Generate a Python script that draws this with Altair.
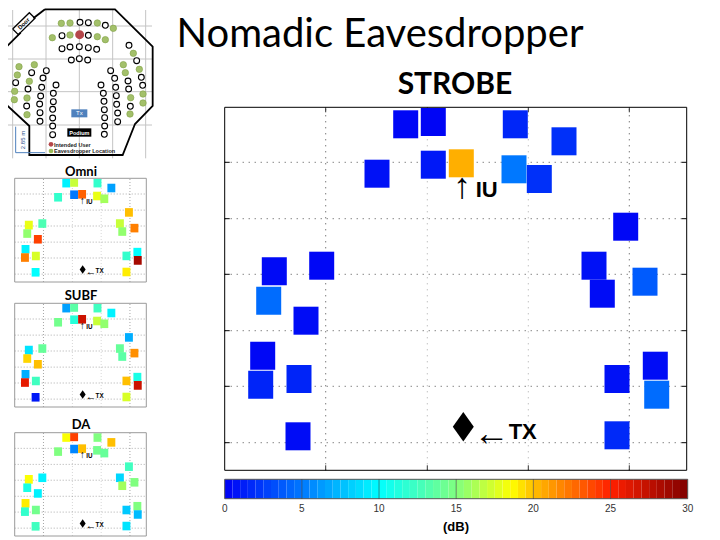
import altair as alt
import pandas as pd

# Shared eavesdropper positions (panel data units)
pos_x = [181,208.6,290.6,339.3,152.3,208.6,236.6,289.3,314.6,401,49.6,97,369.3,420.3,44,377.6,81.3,38,36,74.3,392.3,430.6,432,73.3,392.3]
pos_y = [346,348.3,346,329,296.6,305.6,307,301,291.3,243.6,199,204.6,204.6,188.6,169.6,176.6,149.6,114.6,85.6,91.3,91.3,104.6,75.6,34,35]

# dB per location
strobe = [0.3,0.2,1.6,2,0.7,1,20.5,5,2,0.3,0.4,0.3,0.7,3.8,4.5,0.5,0.5,0.3,1.5,1.5,0.7,0.5,4.5,0.5,1.7]
omni = [9.5,17,12,6.5,12,5,23,18,16,20,18,13,17,22,15.5,15.5,24,9.5,22,17.5,12,10,28.5,10,19]
subf = [6.5,13.5,12.5,9.5,14.5,11.5,27,17,15.5,7,9,14,14,21.5,19.5,13.5,20,7,26,12.5,20,11,27,1,17.5]
da = [18.5,24,15,20,15,5.5,20,14.5,14,12.5,18.5,9.5,8.5,15,11,16,9.5,19,12,14.5,8,15,7.5,12.5,9]

grid_x = [101,202.6,303.6,404.6]
grid_y = [27.6,84,139.6,196,251.6,308]
dark_x = [101,404.6]

jet_stops = [0,5,10,15,18.6,20,25,30]
jet_cols = ["#0000f5","#0078ff","#00ffff","#80ff80","#ffff00","#ffbf00","#ff2000","#800000"]
color = alt.Color("v:Q", scale=alt.Scale(domain=jet_stops, range=jet_cols, interpolate="rgb"), legend=None)

# floor plan (plan units)
outline_x = [135,345,458,458,405,368,88,88,20,20,62]
outline_y = [28,28,140,318,372,465,465,378,315,140,98]
outline2_x = [135,100]
outline2_y = [28,55]
door_x = [38,88,105,55,38]
door_y = [87,38,55,104,87]
chair_x = [240,265,316,186,265,186,210,238,265,290,214,238,263,387,410,95,139,129,47,84,125,168,122,80,119,160,160,120,158,120,158,158,158,332,344,303,424,384,428,347,310,386,349,312,350,391,313,353,314,353,314,313]
chair_y = [67,68,76,107,106,146,141,140,143,148,180,176,180,136,182,218,212,234,248,267,262,255,288,318,312,280,305,338,328,364,354,378,404,212,235,255,232,243,256,262,280,267,287,304,313,319,329,339,353,365,378,403]
eaves_x = [184,210,292,340,157,210,292,316,400,103,57,52,370,376,418,88,44,43,81,392,429,429,81,390]
eaves_y = [70,69,69,85,113,105,110,119,160,194,200,225,194,218,208,244,274,299,294,293,282,309,344,342]
plan_grid_x = [38,138,238,338,437]
plan_grid_y = [78,177,275,375]


def text_at(txt, x, y, size, font="Liberation Sans", bold=False, col="#000000", align="center", angle=0):
    kw = dict(text=txt, fontSize=size, font=font, color=col, align=align, baseline="middle")
    if bold:
        kw["fontWeight"] = "bold"
    if angle:
        kw["angle"] = angle
    return alt.Chart(pd.DataFrame({"a": [0]})).mark_text(**kw).encode(x=alt.value(x - 8), y=alt.value(y - 8))


def panel(vals, x0, x1, y0, y1, k, frame_col, grid_op):
    sx = alt.Scale(domain=[0, 462], range=[x0 - 8, x1 - 8], nice=False, zero=False)
    sy = alt.Scale(domain=[0, 363], range=[y1 - 8, y0 - 8], nice=False, zero=False)
    X = lambda f: alt.X(f, scale=sx, axis=None)
    Y = lambda f: alt.Y(f, scale=sy, axis=None)
    out = []
    vg = pd.DataFrame({"x": grid_x, "y0": [0] * 4, "y1": [363] * 4, "dark": [g in dark_x for g in grid_x]})
    hg = pd.DataFrame({"y": grid_y, "x0": [0] * 6, "x1": [462] * 6})
    dash = [1, 5] if k == 1 else [1, 2]
    for d, c in ((vg[vg.dark], "#222222"), (vg[~vg.dark], "#999999")):
        out.append(alt.Chart(d).mark_rule(color=c, strokeDash=dash, strokeWidth=1, opacity=grid_op).encode(x=X("x:Q"), y=Y("y0:Q"), y2="y1:Q"))
    out.append(alt.Chart(hg).mark_rule(color="#333333", strokeDash=dash, strokeWidth=1, opacity=grid_op).encode(y=Y("y:Q"), x=X("x0:Q"), x2="x1:Q"))
    if k == 1:
        for a, b in ((0, 5), (457, 462)):
            d = pd.DataFrame({"y": grid_y, "x0": [a] * 6, "x1": [b] * 6})
            out.append(alt.Chart(d).mark_rule(color="#000000", strokeWidth=1).encode(y=Y("y:Q"), x=X("x0:Q"), x2="x1:Q"))
        for a, b in ((0, 5), (358, 363)):
            d = pd.DataFrame({"x": grid_x, "y0": [a] * 4, "y1": [b] * 4})
            out.append(alt.Chart(d).mark_rule(color="#333333", strokeWidth=1).encode(x=X("x:Q"), y=Y("y0:Q"), y2="y1:Q"))
    df = pd.DataFrame({"x": pos_x, "y": pos_y, "v": vals})
    out.append(alt.Chart(df).mark_rect(opacity=1, width=25 * k + (0.8 if k < 1 else 0), height=28 * k + (0.6 if k < 1 else 0)).encode(x=X("x:Q"), y=Y("y:Q"), color=color))
    fr = pd.DataFrame({"x0": [0], "x1": [462], "y0": [0], "y1": [363]})
    out.append(alt.Chart(fr).mark_rect(fillOpacity=0, stroke=frame_col, strokeWidth=1).encode(x=X("x0:Q"), x2="x1:Q", y=Y("y0:Q"), y2="y1:Q"))
    ann = [("\u2191", 237.6, 283, 36, "Liberation Sans", False), ("IU", 262, 280, 22, "Liberation Sans", True),
           ("\u2190", 267, 36, 36, "Liberation Sans", False), ("TX", 298, 38, 22, "Liberation Sans", True)]
    for t, ax, ay, s, f, b in ann:
        d = pd.DataFrame({"x": [ax], "y": [ay]})
        kw = dict(text=t, fontSize=max(s * k, 6), font=f, baseline="middle", align="center", color="#000000")
        if b:
            kw["fontWeight"] = "bold"
        out.append(alt.Chart(d).mark_text(**kw).encode(x=X("x:Q"), y=Y("y:Q")))
    d = pd.DataFrame({"x": [238.6], "y": [43.6]})
    out.append(alt.Chart(d).mark_point(shape="M0,-1.2L0.85,0L0,1.2L-0.85,0Z", filled=True, color="#000000", opacity=1,
                                       size=(21 * k / 1.7) ** 2 * 4).encode(x=X("x:Q"), y=Y("y:Q")))
    return out


def plan():
    sx = alt.Scale(domain=[0, 510], range=[-8, 162], nice=False, zero=False)
    sy = alt.Scale(domain=[0, 510], range=[-8, 162], nice=False, zero=False)
    X = lambda f: alt.X(f, scale=sx, axis=None)
    Y = lambda f: alt.Y(f, scale=sy, axis=None)
    out = []
    vg = pd.DataFrame({"x": plan_grid_x, "y0": [30] * 5, "y1": [475] * 5})
    hg = pd.DataFrame({"y": plan_grid_y, "x0": [22] * 4, "x1": [456] * 4})
    out.append(alt.Chart(vg).mark_rule(color="#c4c4c4", strokeWidth=1).encode(x=X("x:Q"), y=Y("y0:Q"), y2="y1:Q"))
    out.append(alt.Chart(hg).mark_rule(color="#c4c4c4", strokeWidth=1).encode(y=Y("y:Q"), x=X("x0:Q"), x2="x1:Q"))
    for xs_, ys_, w in ((outline_x, outline_y, 1.8), (outline2_x, outline2_y, 1.8), (door_x, door_y, 1.3)):
        d = pd.DataFrame({"x": xs_, "y": ys_, "i": list(range(len(xs_)))})
        out.append(alt.Chart(d).mark_line(color="#000000", strokeWidth=w).encode(x=X("x:Q"), y=Y("y:Q"), order="i:Q"))
    d = pd.DataFrame({"x": chair_x, "y": chair_y})
    out.append(alt.Chart(d).mark_point(shape="circle", filled=True, fill="#ffffff", stroke="#000000", strokeWidth=1.1, size=34, opacity=1).encode(x=X("x:Q"), y=Y("y:Q")))
    d = pd.DataFrame({"x": eaves_x, "y": eaves_y})
    out.append(alt.Chart(d).mark_point(shape="circle", filled=True, fill="#a3c06a", stroke="#7f9f45", strokeWidth=0.6, size=42, opacity=1).encode(x=X("x:Q"), y=Y("y:Q")))
    d = pd.DataFrame({"x": [239], "y": [104]})
    out.append(alt.Chart(d).mark_point(shape="circle", filled=True, fill="#b5474a", stroke="#b5474a", size=48, opacity=1).encode(x=X("x:Q"), y=Y("y:Q")))
    d = pd.DataFrame({"x": [214], "x1": [262], "y": [328], "y1": [352]})
    out.append(alt.Chart(d).mark_rect(color="#4f81bd", opacity=1).encode(x=X("x:Q"), x2="x1:Q", y=Y("y:Q"), y2="y1:Q"))
    d = pd.DataFrame({"x": [202], "x1": [274], "y": [385], "y1": [410]})
    out.append(alt.Chart(d).mark_rect(color="#000000", opacity=1).encode(x=X("x:Q"), x2="x1:Q", y=Y("y:Q"), y2="y1:Q"))
    # blue dimension lines
    d = pd.DataFrame({"x": [47, 47, 135], "y": [380, 458, 458], "i": [0, 1, 2]})
    out.append(alt.Chart(d).mark_line(color="#4f81bd", strokeWidth=1).encode(x=X("x:Q"), y=Y("y:Q"), order="i:Q"))
    d = pd.DataFrame({"x": [153, 153], "y": [433, 453], "c": ["#b5474a", "#9bbb59"]})
    out.append(alt.Chart(d).mark_point(shape="circle", filled=True, size=22, opacity=1).encode(x=X("x:Q"), y=Y("y:Q"), color=alt.Color("c:N", scale=None)))
    labels = [("Door", 71, 71, 6, "#000000", "center", 315, "bold"),
              ("Tx", 238, 340, 6, "#ffffff", "center", 0, "normal"),
              ("Podium", 238, 398, 5.5, "#ffffff", "center", 0, "bold"),
              ("2.85 m", 70, 420, 6, "#1f4e8c", "center", 270, "normal"),
              ("Intended User", 162, 434, 5.5, "#222222", "left", 0, "bold"),
              ("Eavesdropper Location", 162, 454, 5.5, "#222222", "left", 0, "bold")]
    for t, ax, ay, s, c, al, ang, w in labels:
        d = pd.DataFrame({"x": [ax], "y": [ay]})
        kw = dict(text=t, fontSize=s, color=c, align=al, baseline="middle", fontWeight=w, font="Liberation Sans")
        if ang:
            kw["angle"] = ang
        out.append(alt.Chart(d).mark_text(**kw).encode(x=X("x:Q"), y=Y("y:Q")))
    return out


def colorbar():
    sx = alt.Scale(domain=[0, 30], range=[224.7 - 8, 687.7 - 8], nice=False, zero=False)
    X = lambda f: alt.X(f, scale=sx, axis=None)
    lev = [i * 0.5 for i in range(60)]
    d = pd.DataFrame({"x": lev, "x1": [l + 0.5 for l in lev], "v": [l + 0.25 for l in lev]})
    out = [alt.Chart(d).mark_rect(opacity=1).encode(x=X("x:Q"), x2="x1:Q", y=alt.value(471.3), y2=alt.value(490.7), color=color)]
    d = pd.DataFrame({"x": [0], "x1": [30]})
    out.append(alt.Chart(d).mark_rect(fillOpacity=0, stroke="#555555", strokeWidth=1).encode(x=X("x:Q"), x2="x1:Q", y=alt.value(471.3), y2=alt.value(490.7)))
    ticks = [0, 5, 10, 15, 20, 25, 30]
    d = pd.DataFrame({"x": ticks[1:-1]})
    out.append(alt.Chart(d).mark_rule(color="#333333", strokeWidth=0.8, opacity=0.7).encode(x=X("x:Q"), y=alt.value(471.3), y2=alt.value(490.7)))
    d = pd.DataFrame({"x": ticks, "t": [str(t) for t in ticks]})
    out.append(alt.Chart(d).mark_text(fontSize=10, font="Liberation Sans", color="#333333", baseline="middle").encode(x=X("x:Q"), y=alt.value(500.7), text="t:N"))
    return out


layers = []
layers += plan()
layers += panel(omni, 14.7, 146.3, 178.3, 282, 0.285, "#9a9a9a", 0.4)
layers += panel(subf, 14.7, 146.3, 303.3, 407, 0.285, "#9a9a9a", 0.4)
layers += panel(da, 14.7, 146.3, 432.7, 536, 0.285, "#9a9a9a", 0.4)
layers += panel(strobe, 224.7, 686.7, 107.3, 470.3, 1, "#000000", 0.85)
layers += colorbar()
layers += [
    text_at("Nomadic Eavesdropper", 380, 35, 40, font="Lato"),
    text_at("STROBE", 455, 85, 30, font="Lato", bold=True),
    text_at("Omni", 81, 172, 13, font="Lato", bold=True),
    text_at("SUBF", 81, 296, 13, font="Lato", bold=True),
    text_at("DA", 81, 425, 13, font="Lato", bold=True),
    text_at("(dB)", 456, 527, 13, bold=True),
]

chart = alt.layer(*layers).resolve_scale(x="independent", y="independent").properties(
    width=704, height=530, padding=0, autosize=alt.AutoSizeParams(type="none"), background="#ffffff"
).configure_view(stroke=None)

chart.save("out.html", embed_options={"renderer": "svg", "actions": False})
